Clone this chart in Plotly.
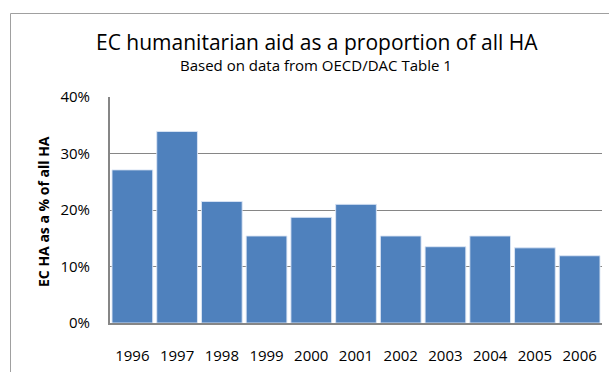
import plotly.graph_objects as go

years = ["1996", "1997", "1998", "1999", "2000", "2001", "2002", "2003", "2004", "2005", "2006"]
ec_share = [27.1, 33.9, 21.5, 15.4, 18.7, 21.0, 15.4, 13.5, 15.4, 13.3, 11.9]
y_ticks = [0, 10, 20, 30, 40]
y_tick_labels = ["0%", "10%", "20%", "30%", "40%"]

title_text = "EC humanitarian aid as a proportion of all HA"
subtitle_text = "Based on data from OECD/DAC Table 1"
y_title = "EC HA as a % of all HA"

W, H = 609, 372
L, R, T, B = 110, 7, 97, 49
pw = W - L - R
ph = H - T - B

def px(x):
    return (x - L) / pw

def py(y):
    return (H - B - y) / ph

font_family = "Open Sans, Liberation Sans, Arial"

fig = go.Figure()
fig.add_trace(go.Bar(
    x=years, y=ec_share,
    marker=dict(color="#4F81BD", line=dict(color="rgba(220,230,245,0.9)", width=1)),
))

fig.update_layout(
    width=W, height=H,
    margin=dict(l=L, r=R, t=T, b=B),
    paper_bgcolor="white", plot_bgcolor="white",
    bargap=0.09,
    showlegend=False,
    font=dict(family=font_family, color="#000000"),
    xaxis=dict(
        type="category", showgrid=False, showline=True, linecolor="#868686", linewidth=2,
        ticks="", tickfont=dict(size=15), ticklabelstandoff=18,
    ),
    yaxis=dict(
        range=[0, 40], tickvals=y_ticks, ticktext=y_tick_labels,
        showgrid=True, gridcolor="#868686", gridwidth=1,
        showline=True, linecolor="#868686", linewidth=2,
        ticks="", tickfont=dict(size=15), ticklabelstandoff=15, zeroline=False,
    ),
    shapes=[dict(type="rect", xref="paper", yref="paper",
                 x0=px(10.5), x1=px(700), y0=py(500), y1=py(13.5),
                 line=dict(color="#A0A0A0", width=1), fillcolor="rgba(0,0,0,0)", layer="below")],
    annotations=[
        dict(text=title_text, xref="paper", yref="paper", x=px(317), y=py(42),
             xanchor="center", yanchor="middle", showarrow=False, font=dict(size=21)),
        dict(text=subtitle_text, xref="paper", yref="paper", x=px(316), y=py(65),
             xanchor="center", yanchor="middle", showarrow=False, font=dict(size=15)),
        dict(text="<b>" + y_title + "</b>", xref="paper", yref="paper", x=px(43), y=py(212),
             xanchor="center", yanchor="middle", showarrow=False, textangle=-90, font=dict(size=14)),
    ],
)

fig.write_html("out.html")
